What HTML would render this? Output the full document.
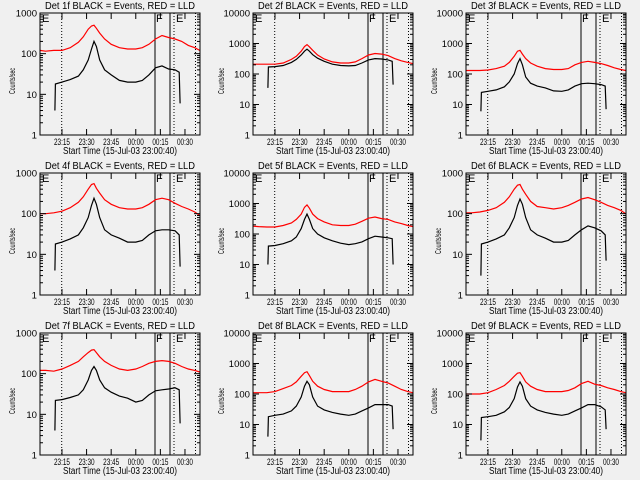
<!DOCTYPE html>
<html><head><meta charset="utf-8"><style>
html,body{margin:0;padding:0;background:#f0f0f0}
svg{display:block;font-family:"Liberation Sans",sans-serif}
</style></head><body>
<svg id="chart" width="640" height="480" viewBox="0 0 640 480" xmlns="http://www.w3.org/2000/svg">
<rect width="640" height="480" fill="#f0f0f0"/>
</svg>
<script>
// time grids (minutes after 23:00)
const blackTimes=[10.7,11,15,20,25,28,31,33,34.5,36,38,41,45,50,55,60,64,68,72,76,80,84,86.5,87];
const redTimes=[1.6,5,10,15,20,25,28,31,33,34.5,36,38,41,45,50,55,60,64,68,72,76,80,84,88,92,96,99];
const detectors=["1f","2f","3f","4f","5f","6f","7f","8f","9f"];
const decades=[3,4,4,3,4,3,3,4,4];
const black1=[4,18,20,23,28,40,70,130,200,150,70,40,30,22,20,20,22,30,45,50,42,40,35,6];
const red1=[120,115,120,120,140,190,260,400,480,500,420,320,230,170,140,130,130,140,170,230,280,250,230,200,160,140,120];
const black2=[35,170,175,190,240,300,420,560,650,560,430,330,260,210,190,185,190,230,290,320,310,290,260,45];
const red2=[210,210,210,210,230,300,380,560,800,920,780,600,420,310,250,230,230,250,320,420,470,450,400,320,270,240,220];
const black3=[6,25,27,30,38,55,100,220,320,200,80,50,40,35,28,27,30,40,48,50,48,45,40,7];
const red3=[130,130,130,135,150,180,240,380,560,600,450,320,230,180,150,140,140,150,200,240,260,240,220,190,160,140,130];
const black4=[4,18,20,24,30,45,80,160,240,170,80,40,30,25,20,20,22,30,38,40,40,38,30,5];
const red4=[100,100,105,115,140,190,260,400,520,550,420,320,220,170,140,130,130,140,170,220,240,220,180,150,130,110,90];
const black5=[10,40,42,48,60,80,150,300,450,300,150,100,75,60,50,45,48,55,70,85,80,75,70,10];
const red5=[180,175,170,170,190,230,300,450,750,900,700,450,320,250,200,190,190,210,260,330,360,320,300,250,220,190,175];
const black6=[3,18,20,24,30,45,80,160,230,170,80,40,30,25,20,20,22,30,40,50,45,38,30,7];
const red6=[105,105,110,120,140,190,260,400,500,520,400,300,200,150,140,130,140,160,190,230,250,220,190,160,140,120,100];
const black7=[4,22,23,26,30,40,70,120,150,120,70,45,35,28,25,20,22,30,38,40,42,45,40,6];
const red7=[120,120,115,130,160,200,260,330,380,390,330,260,200,160,130,120,130,150,180,200,210,200,180,150,130,120,110];
const black8=[4,18,20,22,28,40,80,180,260,200,80,40,30,25,22,20,22,28,35,45,45,45,40,7];
const red8=[110,110,110,120,150,190,250,380,500,540,400,260,180,140,120,120,120,140,180,250,300,260,230,180,140,120,110];
const black9=[3,17,18,20,26,36,70,170,250,180,70,40,30,25,22,20,22,28,35,45,45,38,30,7];
const red9=[100,100,100,110,140,190,260,380,480,500,380,250,180,140,120,120,120,130,160,220,260,210,190,160,140,120,110];
const blackSeries=[black1,black2,black3,black4,black5,black6,black7,black8,black9];
const redSeries=[red1,red2,red3,red4,red5,red6,red7,red8,red9];
const xTickTimes=[15,30,45,60,75,90];
const xTickLabels=["23:15","23:30","23:45","00:00","00:15","00:30"];

const NS="http://www.w3.org/2000/svg";
const svg=document.getElementById('chart');
function mk(tag,attrs,parent){const e=document.createElementNS(NS,tag);for(const k in attrs)e.setAttribute(k,attrs[k]);(parent||svg).appendChild(e);return e;}
const W=160,TOP=13,BOT=135,T0=1.6,PXM=1.64;
for(let p=0;p<9;p++){
  const col=p%3,row=Math.floor(p/3);
  const L=40+col*213,oy=row*160;
  const g=mk('g',{});
  
  
  const nd=decades[p];
  const xs=t=>L+(t-T0)*PXM;
  const ys=v=>oy+BOT-(Math.log10(Math.max(v,1))/nd)*(BOT-TOP);
  [L+21.7,L+134,L+155.5].forEach(x=>{const d=mk('line',{x1:x,x2:x,y1:oy+TOP,y2:oy+BOT,stroke:'#000','stroke-dasharray':'1,2'},g);
    });
  [L+115,L+130].forEach(x=>{const s=mk('line',{x1:x,x2:x,y1:oy+TOP,y2:oy+BOT,stroke:'#000','stroke-width':1},g);
    });
  [['E',L+2],['F',L+116],['E',L+136]].forEach(([c,x])=>{const t=mk('text',{x:x,y:oy+TOP+9,'font-size':11,fill:'#000'},g);t.textContent=c;
    });
  const pb=blackTimes.map((t,i)=>xs(t).toFixed(1)+','+ys(blackSeries[p][i]).toFixed(1)).join(' ');
  const pr=redTimes.map((t,i)=>xs(t).toFixed(1)+','+ys(redSeries[p][i]).toFixed(1)).join(' ');
  const lr=mk('polyline',{points:pr,fill:'none',stroke:'#ff0000','stroke-width':1.2},g);
  
  const lb=mk('polyline',{points:pb,fill:'none',stroke:'#000','stroke-width':1.2},g);
  
  const fr=mk('rect',{x:L,y:oy+TOP,width:W,height:BOT-TOP,fill:'none',stroke:'#000'},g);
  
  for(let d=0;d<=nd;d++){
    const y=ys(Math.pow(10,d));
    mk('line',{x1:L,x2:L+6,y1:y,y2:y,stroke:'#000'},g);
    mk('line',{x1:L+W-6,x2:L+W,y1:y,y2:y,stroke:'#000'},g);
    const s=String(Math.pow(10,d));
    const t=mk('text',{x:L-3,y:y+3.5,'font-size':9,'text-anchor':'end',fill:'#000',textLength:s.length*5.3,lengthAdjust:'spacingAndGlyphs'},g);t.textContent=s;
    
    if(d<nd)for(let m=2;m<10;m++){const ym=ys(m*Math.pow(10,d));
      mk('line',{x1:L,x2:L+3,y1:ym,y2:ym,stroke:'#000'},g);mk('line',{x1:L+W-3,x2:L+W,y1:ym,y2:ym,stroke:'#000'},g);}
  }
  xTickTimes.forEach((tt,i)=>{const x=xs(tt);
    mk('line',{x1:x,x2:x,y1:oy+BOT,y2:oy+BOT-6,stroke:'#000'},g);
    mk('line',{x1:x,x2:x,y1:oy+TOP,y2:oy+TOP+6,stroke:'#000'},g);
    const t=mk('text',{x:x,y:oy+BOT+10,'font-size':9,'text-anchor':'middle',fill:'#000',textLength:16,lengthAdjust:'spacingAndGlyphs'},g);t.textContent=xTickLabels[i];
    
  });
  const ti=mk('text',{x:L+W/2,y:oy+9,'font-size':10,'text-anchor':'middle',fill:'#000',textLength:150,lengthAdjust:'spacingAndGlyphs'},g);
  ti.textContent='Det '+detectors[p]+' BLACK = Events, RED = LLD';
  
  const xl=mk('text',{x:L+80,y:oy+154,'font-size':10,'text-anchor':'middle',fill:'#000',textLength:114,lengthAdjust:'spacingAndGlyphs'},g);
  xl.textContent='Start Time (15-Jul-03 23:00:40)';
  
  const yx=L-(nd===4?29:25),yy=oy+81;
  const yl=mk('text',{x:yx,y:yy,'font-size':8,'text-anchor':'middle',fill:'#000',textLength:26,lengthAdjust:'spacingAndGlyphs',transform:'rotate(-90 '+yx+' '+yy+')'},g);
  yl.textContent='Counts/sec';
  
}
</script>
</body></html>
